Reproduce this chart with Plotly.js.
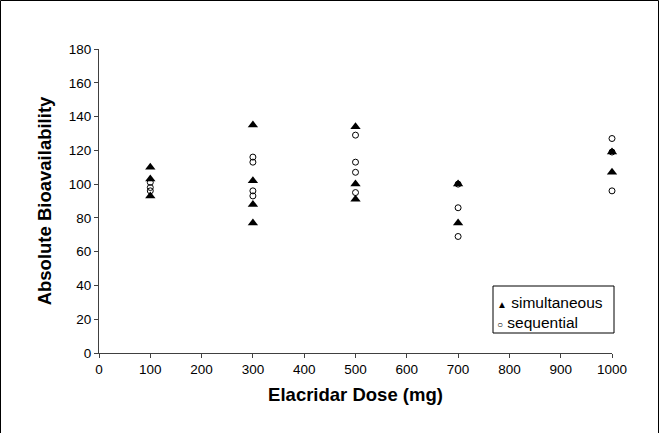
<!DOCTYPE html>
<html>
<head>
<meta charset="utf-8">
<script src="https://cdn.plot.ly/plotly-3.0.1.min.js"></script>
<style>html,body{margin:0;padding:0;background:#fff;}#chart{width:659px;height:433px;}</style>
</head>
<body>
<div id="chart"></div>
<script>
// Simultaneous administration
const simDose = [100, 100, 100, 300, 300, 300, 300, 500, 500, 500, 700, 700, 1000, 1000];
const simValue = [110, 103, 93, 135, 102, 88, 77, 134, 100, 91, 100, 77, 119, 107];
// Sequential administration
const seqDose = [100, 100, 100, 300, 300, 300, 300, 500, 500, 500, 500, 700, 700, 700, 1000, 1000, 1000];
const seqValue = [101, 98, 96, 116, 113, 96, 93, 129, 113, 107, 95, 100, 86, 69, 127, 119, 96];
const xTicks = [0, 100, 200, 300, 400, 500, 600, 700, 800, 900, 1000];
const yTicks = [0, 20, 40, 60, 80, 100, 120, 140, 160, 180];
const legendNames = ["simultaneous", "sequential"];

const W = 659, H = 433, L = 99, R = 47, T = 49, B = 80;
const pw = W - L - R, ph = H - T - B;
const px = v => (v - L) / pw;
const py = v => (H - B - v) / ph;

const traces = [
  {x: simDose, y: simValue, type: 'scatter', mode: 'markers', name: legendNames[0],
   marker: {symbol: 'triangle-up', size: 9, color: '#000', line: {width: 0}}, cliponaxis: false},
  {x: seqDose, y: seqValue, type: 'scatter', mode: 'markers', name: legendNames[1],
   marker: {symbol: 'circle-open', size: 6, color: '#000', line: {width: 1, color: '#000'}}, cliponaxis: false}
];

const font = {family: 'Liberation Sans, Arial, sans-serif', color: '#000'};
const layout = {
  width: W, height: H,
  margin: {l: L, r: R, t: T, b: B, pad: 0},
  paper_bgcolor: '#fff', plot_bgcolor: '#fff',
  showlegend: false,
  font: Object.assign({size: 13}, font),
  xaxis: {
    range: [0, 1000], tickvals: xTicks, ticktext: xTicks.map(String),
    showgrid: false, zeroline: false, showline: true, linecolor: '#404040', linewidth: 1,
    ticks: 'outside', ticklen: 4, tickcolor: '#404040',
    tickfont: Object.assign({size: 13.5}, font),
    title: {text: '<b>Elacridar Dose (mg)</b>', font: Object.assign({size: 18.5}, font), standoff: 11}
  },
  yaxis: {
    range: [0, 180], tickvals: yTicks, ticktext: yTicks.map(String),
    showgrid: false, zeroline: false, showline: true, linecolor: '#404040', linewidth: 1,
    ticks: 'outside', ticklen: 4, tickcolor: '#404040',
    tickfont: Object.assign({size: 13.5}, font),
    title: {text: '<b>Absolute Bioavailability</b>', font: Object.assign({size: 18.5}, font), standoff: 12}
  },
  shapes: [
    {type: 'rect', xref: 'paper', yref: 'paper', x0: px(493), x1: px(614), y0: py(333), y1: py(286),
     line: {color: '#000', width: 1}, fillcolor: '#fff', layer: 'above'},
    {type: 'line', xref: 'paper', yref: 'paper', x0: px(0.5), x1: px(658.5), y0: py(0.5), y1: py(0.5), line: {color: '#000', width: 1}},
    {type: 'line', xref: 'paper', yref: 'paper', x0: px(0.5), x1: px(0.5), y0: py(0.5), y1: py(433), line: {color: '#000', width: 1}},
    {type: 'line', xref: 'paper', yref: 'paper', x0: px(658.5), x1: px(658.5), y0: py(0.5), y1: py(433), line: {color: '#000', width: 1}}
  ],
  annotations: [
    {xref: 'paper', yref: 'paper', x: px(495), y: py(302), xanchor: 'left', yanchor: 'middle', showarrow: false,
     text: '<span style="font-size:10px">▲</span> ' + legendNames[0], font: Object.assign({size: 15.5}, font)},
    {xref: 'paper', yref: 'paper', x: px(495), y: py(322), xanchor: 'left', yanchor: 'middle', showarrow: false,
     text: '<span style="font-size:10px">○</span> ' + legendNames[1], font: Object.assign({size: 15.5}, font)}
  ]
};

Plotly.newPlot('chart', traces, layout, {displayModeBar: false, staticPlot: true});
</script>
</body>
</html>
